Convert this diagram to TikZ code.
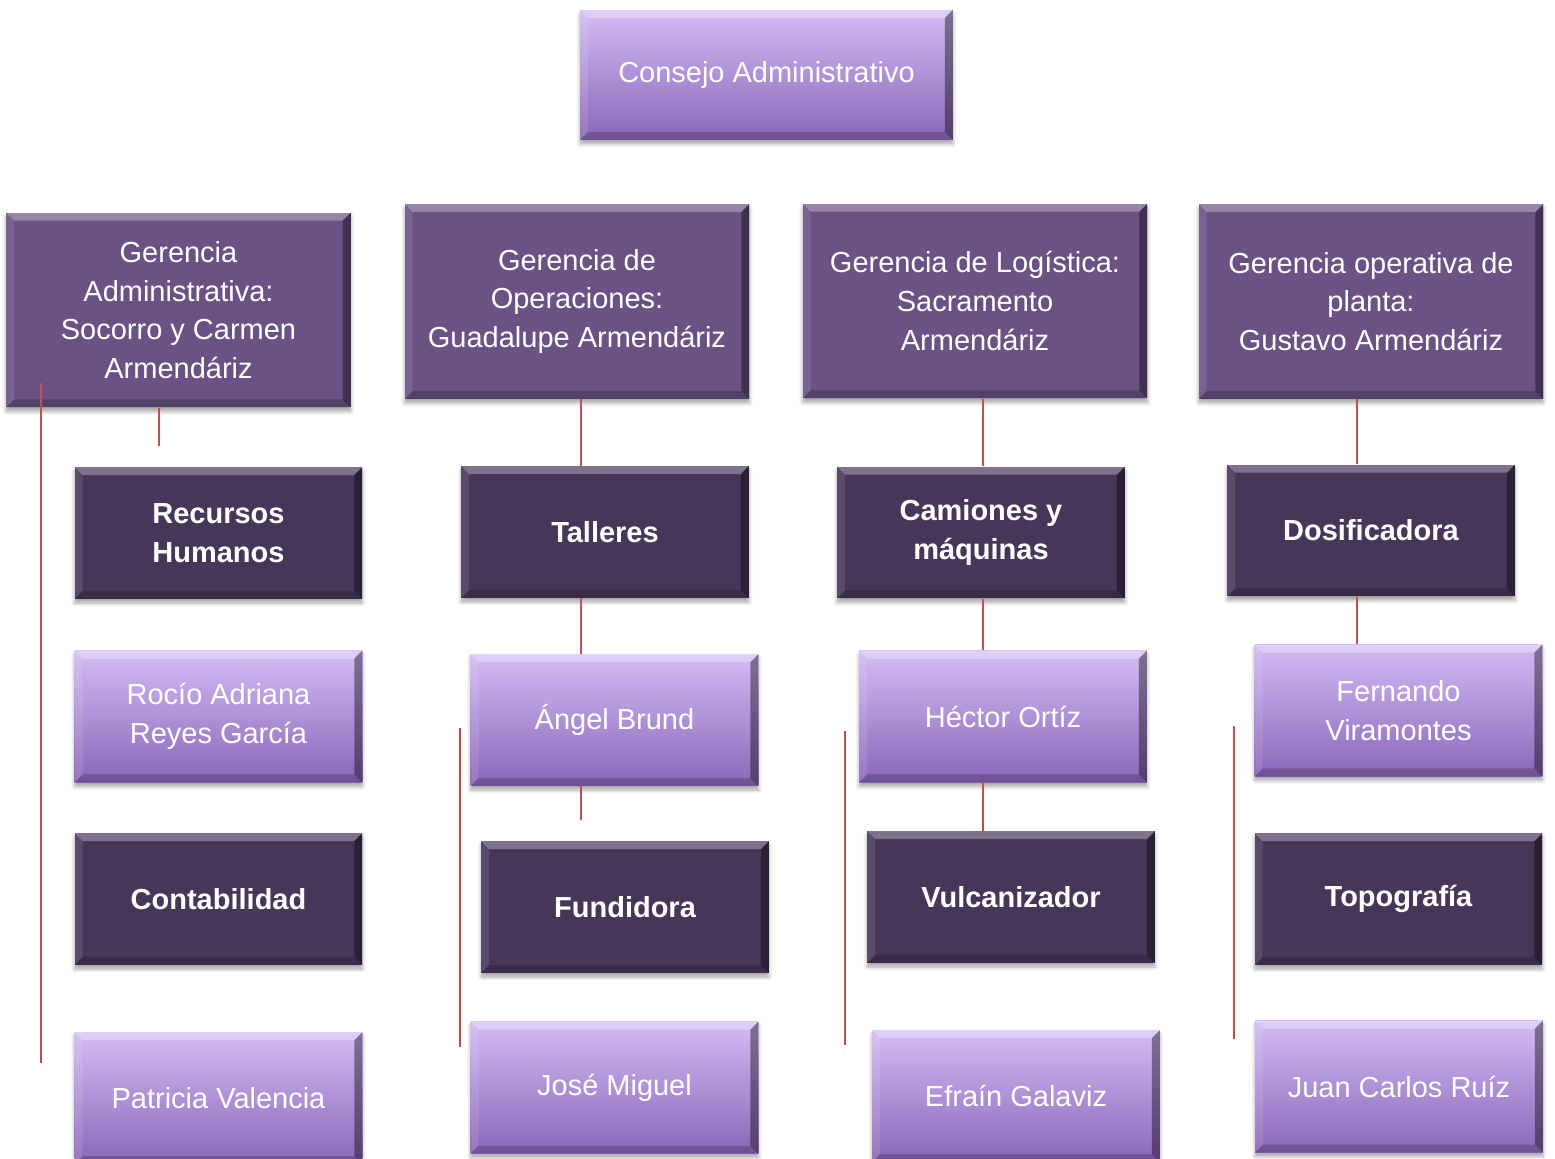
\documentclass[tikz,border=0pt]{standalone}
\usepackage{fontspec}
\setmainfont{Liberation Sans}
\usepackage{tikz}
\usetikzlibrary{shadows.blur}

\definecolor{lilaTop}{RGB}{210,188,245}
\definecolor{lilaBot}{RGB}{138,102,184}
\definecolor{gerMid}{RGB}{106,82,132}
\definecolor{areaDark}{RGB}{70,55,89}
\definecolor{linkRed}{RGB}{192,80,77}
\newcommand{\bevw}{.16cm}

\tikzset{
  bevel/.style={path picture={
    \coordinate (pnw) at (path picture bounding box.north west);
    \coordinate (pne) at (path picture bounding box.north east);
    \coordinate (psw) at (path picture bounding box.south west);
    \coordinate (pse) at (path picture bounding box.south east);
    \fill[white,opacity=.3] (pnw) -- (pne) -- ([shift={(-\bevw,-\bevw)}]pne) -- ([shift={(\bevw,-\bevw)}]pnw) -- cycle;
    \fill[white,opacity=.1] (pnw) -- ([shift={(\bevw,-\bevw)}]pnw) -- ([shift={(\bevw,\bevw)}]psw) -- (psw) -- cycle;
    \fill[black,opacity=.4] (pne) -- (pse) -- ([shift={(-\bevw,\bevw)}]pse) -- ([shift={(-\bevw,-\bevw)}]pne) -- cycle;
    \fill[black,opacity=.2] (psw) -- (pse) -- ([shift={(-\bevw,\bevw)}]pse) -- ([shift={(\bevw,\bevw)}]psw) -- cycle;
  }},
  box/.style={rectangle, inner sep=0pt, align=center, text=white,
    font=\fontsize{16.5}{22}\selectfont, minimum width=5.76cm, minimum height=2.64cm,
    bevel, blur shadow={shadow xshift=0pt, shadow yshift=-.08cm, shadow opacity=35, shadow blur steps=6}},
  persona/.style={box, top color=lilaTop, bottom color=lilaBot},
  area/.style={box, fill=areaDark, font=\fontsize{16.5}{22}\selectfont\bfseries},
  gerencia/.style={box, fill=gerMid, minimum width=6.9cm, minimum height=3.9cm},
  link/.style={draw=linkRed, line width=.9pt}
}

\begin{document}
\begin{tikzpicture}[x=0.02cm, y=-0.02cm]
  \useasboundingbox (0,0) rectangle (1555,1159);

  % consejo
  \node[persona, minimum width=7.46cm, minimum height=2.6cm] (consejo) at (766.5,75) {Consejo Administrativo};

  % gerencias
  \node[gerencia] (gadm) at (178.5,310) {Gerencia\\Administrativa:\\Socorro y Carmen\\Armendáriz};
  \node[gerencia] (gop) at (577,301.5) {Gerencia de\\Operaciones:\\Guadalupe Armendáriz};
  \node[gerencia] (glog) at (975,301) {Gerencia de Logística:\\Sacramento\\Armendáriz};
  \node[gerencia] (gpl) at (1371,301.5) {Gerencia operativa de\\planta:\\Gustavo Armendáriz};

  % areas y personas
  \node[area] (rh) at (218.5,533) {Recursos\\Humanos};
  \node[area] (talleres) at (605,532) {Talleres};
  \node[area] (camiones) at (981,532.5) {Camiones y\\máquinas};
  \node[area] (dosif) at (1371,530.5) {Dosificadora};

  \node[persona] (rocio) at (218.5,716.5) {Rocío Adriana\\Reyes García};
  \node[persona] (angel) at (614.5,720) {Ángel Brund};
  \node[persona] (hector) at (1003,716.5) {Héctor Ortíz};
  \node[persona] (fernando) at (1398.5,710.5) {Fernando\\Viramontes};

  \node[area] (conta) at (218.5,899) {Contabilidad};
  \node[area] (fundidora) at (625,907) {Fundidora};
  \node[area] (vulc) at (1011,897) {Vulcanizador};
  \node[area] (topo) at (1398.5,899) {Topografía};

  \node[persona] (patricia) at (218.5,1098) {Patricia Valencia};
  \node[persona] (jose) at (614.5,1087.5) {José Miguel};
  \node[persona] (efrain) at (1016,1096) {Efraín Galaviz};
  \node[persona] (juan) at (1399,1086.5) {Juan Carlos Ruíz};

  % lineas
  \coordinate (x2) at (581,0);
  \coordinate (x3) at (983,0);
  \coordinate (x4) at (1357,0);
  \coordinate (e1) at (159,446);
  \coordinate (e2) at (581,820);
  \coordinate (l1a) at (41,383);  \coordinate (l1b) at (41,1063);
  \coordinate (l2a) at (460,728); \coordinate (l2b) at (460,1047);
  \coordinate (l3a) at (845,731); \coordinate (l3b) at (845,1045);
  \coordinate (l4a) at (1234,726); \coordinate (l4b) at (1234,1039);

  \draw[link] (gadm.south -| e1) -- (e1);
  \draw[link] (gop.south -| x2) -- (talleres.north -| x2);
  \draw[link] (talleres.south -| x2) -- (angel.north -| x2);
  \draw[link] (angel.south -| x2) -- (e2);
  \draw[link] (glog.south -| x3) -- (camiones.north -| x3);
  \draw[link] (camiones.south -| x3) -- (hector.north -| x3);
  \draw[link] (hector.south -| x3) -- (vulc.north -| x3);
  \draw[link] (gpl.south -| x4) -- (dosif.north -| x4);
  \draw[link] (dosif.south -| x4) -- (fernando.north -| x4);
  \draw[link] (l1a) -- (l1b);
  \draw[link] (l2a) -- (l2b);
  \draw[link] (l3a) -- (l3b);
  \draw[link] (l4a) -- (l4b);
\end{tikzpicture}
\end{document}
